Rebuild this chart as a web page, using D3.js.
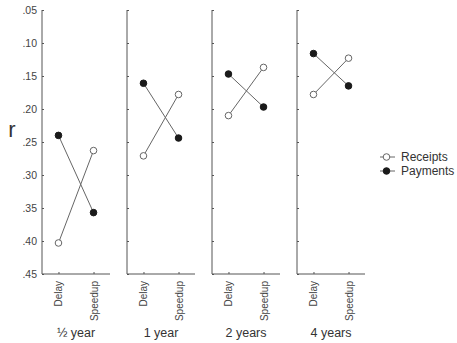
<!DOCTYPE html>
<html>
<head>
<meta charset="utf-8">
<script src="https://cdn.jsdelivr.net/npm/d3@7"></script>
<style>
  body { margin: 0; background: #fff; }
  svg { font-family: "Liberation Sans", Arial, sans-serif; }
</style>
</head>
<body>
<div id="chart"></div>
<script>
// ── Data ─────────────────────────────────────────────
const periods    = ["½ year", "1 year", "2 years", "4 years"];
const conditions = ["Delay", "Speedup"];
const receipts   = [[0.403, 0.263], [0.271, 0.178], [0.210, 0.137], [0.178, 0.123]];
const payments   = [[0.240, 0.357], [0.161, 0.244], [0.147, 0.197], [0.116, 0.165]];
const yTicks     = [0.05, 0.10, 0.15, 0.20, 0.25, 0.30, 0.35, 0.40, 0.45];
const series     = [
  { name: "Receipts", values: receipts, fill: "#fff" },
  { name: "Payments", values: payments, fill: "#1a1a1a" }
];

// ── Layout ───────────────────────────────────────────
const W = 457, H = 343;
const left0 = 42, pitch = 85, panelW = 68;
const plotTop = 10, plotBottom = 274;
const lineCol = "#666", axisCol = "#555";

const svg = d3.select("#chart").append("svg")
  .attr("width", W).attr("height", H);

const y = d3.scaleLinear().domain([0.05, 0.45]).range([plotTop, plotBottom]);
const x = d3.scalePoint().domain(conditions).range([0, panelW]).padding(0.47);
const fmt = d => d3.format(".2f")(d).replace(/^0/, "");

// "r" label
svg.append("text")
  .attr("x", 12).attr("y", 137)
  .attr("text-anchor", "middle")
  .style("font-size", "22px").attr("fill", "#333")
  .text("r");

periods.forEach((p, i) => {
  const g = svg.append("g").attr("transform", `translate(${left0 + i * pitch},0)`);

  // y axis
  const ya = g.append("g")
    .call(d3.axisRight(y).tickValues(yTicks).tickSize(2).tickFormat(i === 0 ? fmt : ""));
  ya.select(".domain").attr("stroke", axisCol).attr("d", `M0,${plotTop}V${plotBottom}`);
  ya.selectAll(".tick line").attr("stroke", axisCol);
  if (i === 0) {
    ya.selectAll(".tick text")
      .attr("x", -5).attr("text-anchor", "end")
      .attr("fill", "#444").style("font-size", "10.5px");
  }

  // x axis
  const xa = g.append("g").attr("transform", `translate(0,${plotBottom})`)
    .call(d3.axisTop(x).tickSize(2).tickFormat(""));
  xa.select(".domain").attr("stroke", axisCol).attr("d", `M0,0H${panelW}`);
  xa.selectAll(".tick line").attr("stroke", axisCol);

  conditions.forEach(c => {
    g.append("text")
      .attr("transform", `translate(${x(c) + 4},${plotBottom + 7}) rotate(-90)`)
      .attr("text-anchor", "end")
      .attr("fill", "#444").style("font-size", "10px")
      .text(c);
  });

  g.append("text")
    .attr("x", panelW / 2).attr("y", 337)
    .attr("text-anchor", "middle")
    .attr("fill", "#333").style("font-size", "12.5px")
    .text(p);

  // lines + markers
  series.forEach(s => {
    const pts = conditions.map((c, j) => [x(c), y(s.values[i][j])]);
    g.append("path")
      .attr("d", d3.line()(pts))
      .attr("fill", "none").attr("stroke", lineCol).attr("stroke-width", 1);
    g.selectAll(null).data(pts).join("circle")
      .attr("cx", d => d[0]).attr("cy", d => d[1])
      .attr("r", 3.3)
      .attr("fill", s.fill)
      .attr("stroke", s.fill === "#fff" ? lineCol : "#1a1a1a")
      .attr("stroke-width", 1);
  });
});

// Legend
const legend = svg.append("g").attr("transform", "translate(380,157)");
series.forEach((s, i) => {
  const row = legend.append("g").attr("transform", `translate(0,${i * 14})`);
  row.append("line").attr("x1", 0).attr("x2", 15)
    .attr("stroke", lineCol).attr("stroke-width", 1);
  row.append("circle").attr("cx", 6.5).attr("r", 3.3)
    .attr("fill", s.fill)
    .attr("stroke", s.fill === "#fff" ? lineCol : "#1a1a1a");
  row.append("text").attr("x", 21).attr("dy", "0.35em")
    .attr("fill", "#333").style("font-size", "12px")
    .text(s.name);
});
</script>
</body>
</html>
